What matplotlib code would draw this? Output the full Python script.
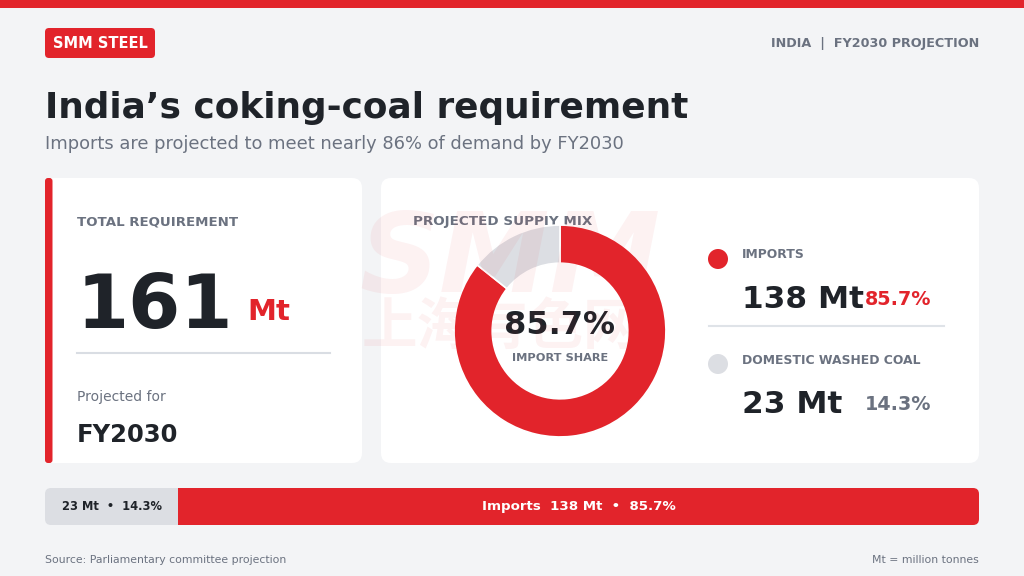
import matplotlib
matplotlib.use("Agg")
import matplotlib.pyplot as plt
from matplotlib.patches import FancyBboxPatch, Rectangle, Circle

plt.rcParams['font.family'] = ['DejaVu Sans', 'Noto Sans CJK SC']

# data
segments = ["Domestic washed coal", "Imports"]
volumes_mt = [23, 138]
shares_pct = [14.3, 85.7]
total_mt = 161
target_year = "FY2030"

RED = "#e2242b"
DARK = "#1f2329"
GREY = "#6b7280"
LIGHT = "#dcdee3"
BG = "#f3f4f6"
W, H = 1024, 576

fig = plt.figure(figsize=(W / 100, H / 100), dpi=100, facecolor=BG)
ax = fig.add_axes([0, 0, 1, 1])
ax.set_xlim(0, W)
ax.set_ylim(H, 0)
ax.axis("off")

def rbox(x0, y0, x1, y1, r):
    return FancyBboxPatch((x0 + r, y0 + r), x1 - x0 - 2 * r, y1 - y0 - 2 * r,
                          boxstyle="round,pad=%g" % r, ec="none")

def card(x0, y0, x1, y1, color="white", r=10, z=1):
    p = rbox(x0, y0, x1, y1, r)
    p.set_facecolor(color)
    p.set_zorder(z)
    ax.add_patch(p)
    return p

# header strip + badge
ax.add_patch(Rectangle((0, 0), W, 8, fc=RED, ec="none"))
card(45, 28, 155, 58, color=RED, r=4)
ax.text(100, 43.5, "SMM STEEL", color="white", fontsize=10.5, fontweight="bold",
        ha="center", va="center")
ax.text(979, 43, "INDIA  |  FY2030 PROJECTION", color=GREY, fontsize=9.2,
        fontweight="bold", ha="right", va="center")

ax.text(45, 108, "India\u2019s coking-coal requirement", color=DARK, fontsize=25.8,
        fontweight="bold", ha="left", va="center")
ax.text(45, 144, "Imports are projected to meet nearly 86% of demand by FY2030",
        color=GREY, fontsize=12.9, ha="left", va="center")

# left card
card(45, 178, 362, 463)
ax.add_patch(FancyBboxPatch((48, 181), 1.5, 279, boxstyle="round,pad=3",
                            fc=RED, ec="none", zorder=2))
ax.text(77, 222, "TOTAL REQUIREMENT", color=GREY, fontsize=9.6, fontweight="bold",
        ha="left", va="center", zorder=3)
ax.text(77, 328, str(total_mt), color=DARK, fontsize=54, fontweight="bold",
        ha="left", va="baseline", zorder=3)
ax.text(247, 320, "Mt", color=RED, fontsize=21, fontweight="bold",
        ha="left", va="baseline", zorder=3)
ax.plot([77, 330], [353, 353], color="#d9dde3", lw=1.5, zorder=3)
ax.text(77, 397, "Projected for", color=GREY, fontsize=10, ha="left", va="center", zorder=3)
ax.text(77, 435, target_year, color=DARK, fontsize=17.5, fontweight="bold",
        ha="left", va="center", zorder=3)

# right card
card(381, 178, 979, 463)
ax.text(413, 222, "PROJECTED SUPPIY MIX", color=GREY, fontsize=9.7, fontweight="bold",
        ha="left", va="center", zorder=3)

# legend rows
legend_y = [259, 364]
rows = [("IMPORTS", volumes_mt[1], shares_pct[1], RED, RED),
        ("DOMESTIC WASHED COAL", volumes_mt[0], shares_pct[0], LIGHT, GREY)]
for (lab, v, s, dot, pc), y in zip(rows, legend_y):
    ax.add_patch(Circle((718, y), 10, fc=dot, ec="none", zorder=3))
    ax.text(742, y - 4, lab, color=GREY, fontsize=8.9, fontweight="bold",
            ha="left", va="center", zorder=3)
    ax.text(742, y + 49, "%d Mt" % v, color=DARK, fontsize=22.5, fontweight="bold",
            ha="left", va="baseline", zorder=3)
    ax.text(931, y + 46, "%.1f%%" % s, color=pc, fontsize=13.8, fontweight="bold",
            ha="right", va="baseline", zorder=3)
ax.plot([709, 944], [326, 326], color="#dfe3e8", lw=1.5, zorder=3)

# donut
cx, cy, R = 560, 331, 107
dax = fig.add_axes([(cx - R) / W, (H - cy - R) / H, 2 * R / W, 2 * R / H])
dax.pie(volumes_mt[::-1], colors=[RED, LIGHT], startangle=90, counterclock=False,
        wedgeprops=dict(width=0.36, edgecolor="white", linewidth=1.2))
dax.set_xlim(-1.01, 1.01)
dax.set_ylim(-1.01, 1.01)
dax.set_aspect("equal")
dax.axis("off")
ax.text(cx, 325, "%.1f%%" % shares_pct[1], color=DARK, fontsize=23, fontweight="bold",
        ha="center", va="center", zorder=5)
ax.text(cx, 358, "IMPORT SHARE", color=GREY, fontsize=8.2, fontweight="bold",
        ha="center", va="center", zorder=5)

# bottom stacked bar
bx0, by0, bx1, by1 = 45, 488, 979, 525
bax = fig.add_axes([bx0 / W, (H - by1) / H, (bx1 - bx0) / W, (by1 - by0) / H])
bax.set_xlim(0, total_mt)
bax.set_ylim(-0.5, 0.5)
bax.axis("off")
clip = rbox(bx0, by0, bx1, by1, 6)
clip.set_transform(ax.transData)
b1 = bax.barh([0], [volumes_mt[0]], height=1.0, color=LIGHT)
b2 = bax.barh([0], [volumes_mt[1]], left=[volumes_mt[0]], height=1.0, color=RED)
for b in list(b1) + list(b2):
    b.set_clip_path(clip)
bax.text(0.018, 0.5, "%d Mt  \u2022  %.1f%%" % (volumes_mt[0], shares_pct[0]),
         transform=bax.transAxes, color=DARK, fontsize=8.3, fontweight="bold",
         ha="left", va="center")
bax.text(volumes_mt[0] + volumes_mt[1] / 2, 0,
         "Imports  %d Mt  \u2022  %.1f%%" % (volumes_mt[1], shares_pct[1]),
         color="white", fontsize=9.6, fontweight="bold", ha="center", va="center")

# footer
ax.text(45, 560, "Source: Parliamentary committee projection", color=GREY, fontsize=7.8,
        ha="left", va="center")
ax.text(979, 560, "Mt = million tonnes", color=GREY, fontsize=7.8, ha="right", va="center")

# faint watermark
wm = fig.add_axes([0, 0, 1, 1], facecolor="none")
wm.set_xlim(0, W)
wm.set_ylim(H, 0)
wm.axis("off")
wm.text(510, 262, "SMM", color=RED, alpha=0.06, fontsize=80, fontweight="bold",
        ha="center", va="center", style="italic")
wm.text(500, 328, "\u4e0a\u6d77\u6709\u8272\u7f51", color=RED, alpha=0.06, fontsize=40,
        fontweight="bold", ha="center", va="center", family=["Noto Sans CJK SC"])

fig.savefig("out.png", dpi=100, facecolor=BG)
